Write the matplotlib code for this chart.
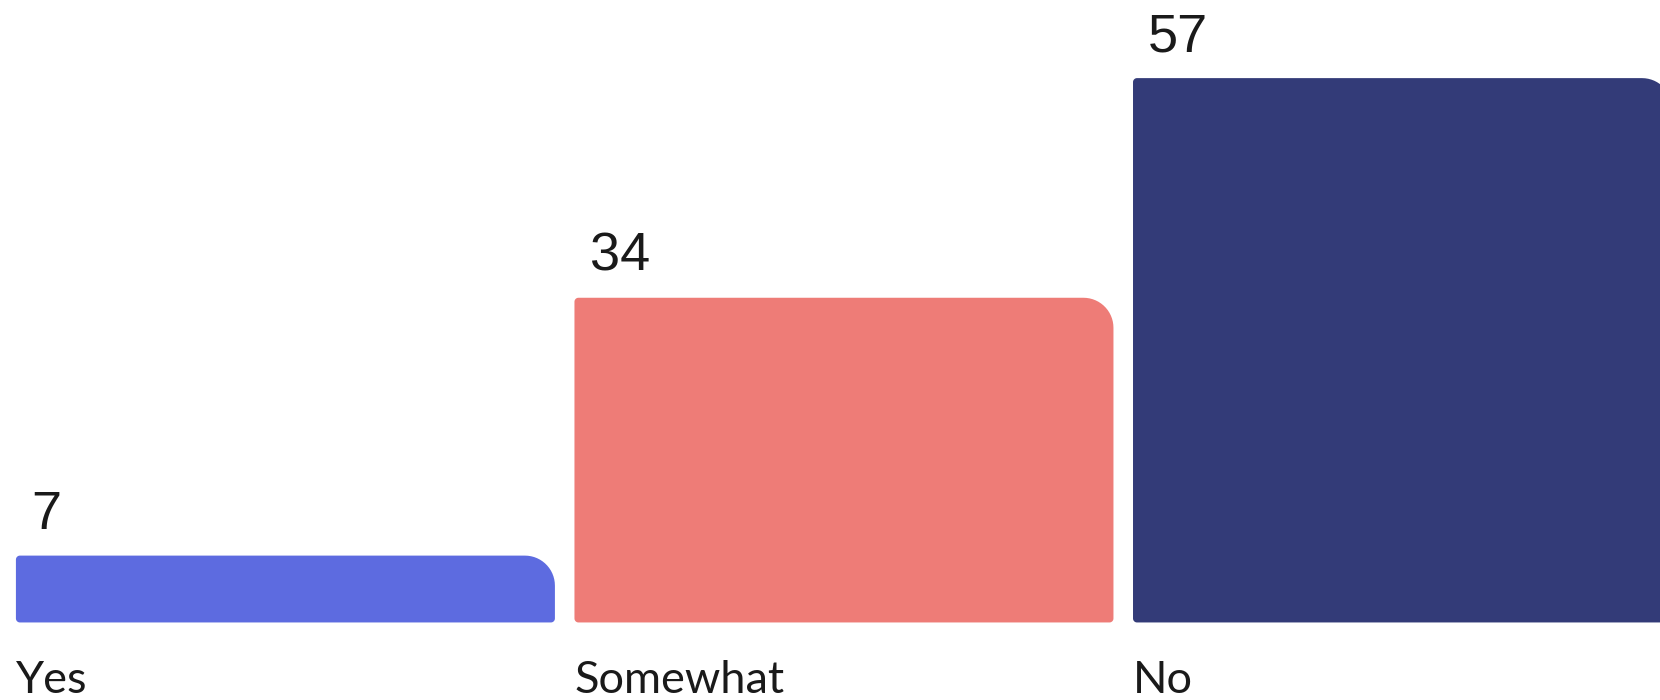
import numpy as np
import matplotlib.pyplot as plt
from matplotlib.patches import Polygon

categories = ["Yes", "Somewhat", "No"]
values = [7, 34, 57]
colors = ["#5D6BE0", "#EE7C77", "#333B78"]

fig = plt.figure(figsize=(16.6, 7), dpi=100)
ax = fig.add_axes([0, 0, 1, 1])
ax.axis("off")
ax.set_xlim(-0.511, 2.461)
ax.set_ylim(-8.12, 65.18)

bar_w = 0.965
x = np.arange(len(categories))
bars = ax.bar(x, values, width=bar_w, color=colors)

# px per data unit, used to keep the corners round
p0 = ax.transData.transform((0, 0))
p1 = ax.transData.transform((1, 1))
sx, sy = p1[0] - p0[0], p1[1] - p0[1]


def corner(cx, cy, r, a0, a1):
    t = np.linspace(np.radians(a0), np.radians(a1), 16)
    return np.column_stack([cx + r / sx * np.cos(t), cy + r / sy * np.sin(t)])


def rounded(rect, r_big=30, r_small=4):
    x0, y0 = rect.get_x(), rect.get_y()
    x1, y1 = x0 + rect.get_width(), y0 + rect.get_height()
    pts = np.vstack([
        corner(x0 + r_small / sx, y0 + r_small / sy, r_small, 180, 270),
        corner(x1 - r_small / sx, y0 + r_small / sy, r_small, 270, 360),
        corner(x1 - r_big / sx, y1 - r_big / sy, r_big, 0, 90),
        corner(x0 + r_small / sx, y1 - r_small / sy, r_small, 90, 180),
    ])
    return Polygon(pts, closed=True, facecolor=rect.get_facecolor(), edgecolor="none")


for rect, val, cat in zip(bars, values, categories):
    rect.set_visible(False)
    ax.add_patch(rounded(rect))
    ax.annotate(str(val), (rect.get_x(), val), xytext=(11, 19.5),
                textcoords="offset points", ha="left", va="baseline",
                fontsize=39, color="#1a1a1a", family="Liberation Sans")
    ax.annotate(cat, (rect.get_x(), 0.01), xycoords=("data", "axes fraction"),
                ha="left", va="baseline", fontsize=32.5, color="#1a1a1a",
                family="Lato")

fig.savefig("out.png", dpi=100)
